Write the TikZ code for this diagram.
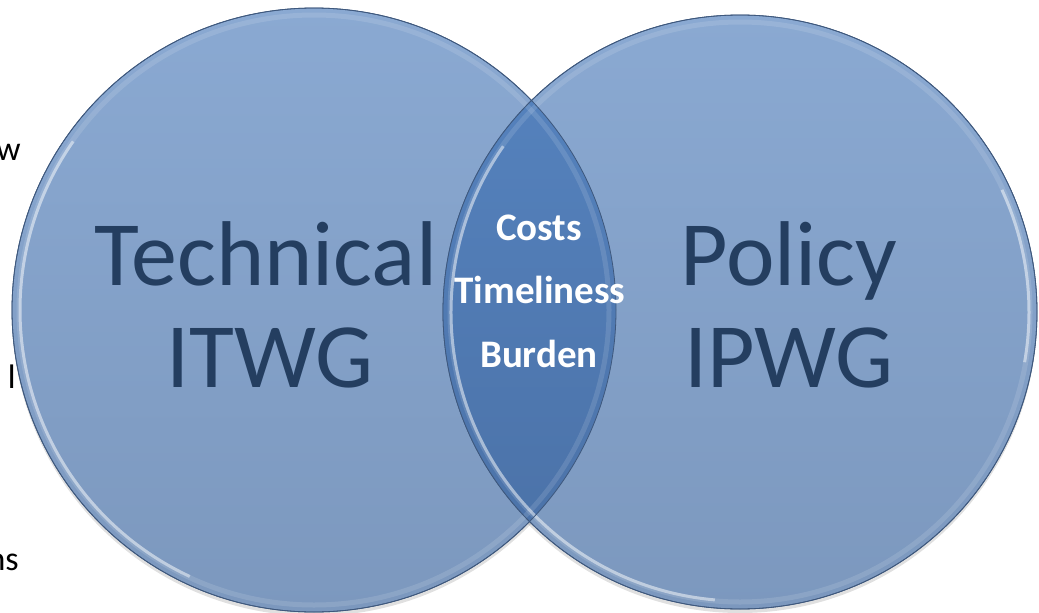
\documentclass[tikz,border=0pt]{standalone}
\usepackage{fontspec}
\setmainfont{Carlito}
\usetikzlibrary{calc}
\definecolor{fillTop}{RGB}{138,169,210}
\definecolor{fillBot}{RGB}{124,152,190}
\definecolor{lensTop}{RGB}{86,132,192}
\definecolor{lensBot}{RGB}{74,112,165}
\definecolor{rimDark}{RGB}{62,88,125}
\definecolor{navyText}{RGB}{36,62,96}
\tikzset{
  bigcircle/.style={circle, inner sep=0pt, top color=fillTop, bottom color=fillBot, draw=rimDark, line width=0.8pt},
  bigword/.style={anchor=base, text=navyText, font=\fontsize{92}{100}\selectfont, inner sep=0pt},
  lensword/.style={anchor=base, text=white, font=\bfseries\fontsize{39}{42}\selectfont, inner sep=0pt},
  edgeword/.style={anchor=base east, text=black, font=\fontsize{34}{40}\selectfont, inner sep=0pt},
  rimlight/.style={draw=white, line width=5pt, draw opacity=0.12},
  rimglow/.style={draw=white, line width=3pt, draw opacity=0.45},
}
\begin{document}
\begin{tikzpicture}[x=1pt, y=-1pt]
\useasboundingbox (0,0) rectangle (1039,613);
% background stray slide text
\node[edgeword] (w1) at (21,160) {w};
\node[edgeword] (w2) at (16,388) {l};
\node[edgeword] (w3) at (19,570) {ns};
% shadows
\fill[black, opacity=0.12] (314,314) circle (302);
\fill[black, opacity=0.12] (740,316) circle (297);
% circles
\node[bigcircle, minimum size=604pt] (L) at (314,310) {};
\node[bigcircle, minimum size=594pt] (R) at (740,312) {};
% lens
\begin{scope}
  \clip (314,310) circle (302);
  \shade[top color=lensTop, bottom color=lensBot] (740,312) circle (297);
\end{scope}
% bevel rims
\draw[rimlight] (314,310) circle (295);
\draw[rimlight] (740,312) circle (290);
\draw[rimglow] ($(314,310)+(115:294)$) arc[start angle=115, end angle=215, radius=294];
\draw[rimglow] ($(740,312)+(95:289)$) arc[start angle=95, end angle=215, radius=289];
\draw[rimglow] ($(740,312)+(-25:289)$) arc[start angle=-25, end angle=10, radius=289];
\draw[draw=rimDark, line width=0.8pt] (314,310) circle (302);
\draw[draw=rimDark, line width=0.8pt] (740,312) circle (297);
% texts
\node[bigword] (t1) at (266,285) {Technical};
\node[bigword] (t2) at (270,387) {ITWG};
\node[bigword] (p1) at (789,285) {Policy};
\node[bigword] (p2) at (789,387) {IPWG};
\node[lensword] (c1) at (539,240) {Costs};
\node[lensword] (c2) at (540,303) {Timeliness};
\node[lensword] (c3) at (539,367) {Burden};
\end{tikzpicture}
\end{document}
